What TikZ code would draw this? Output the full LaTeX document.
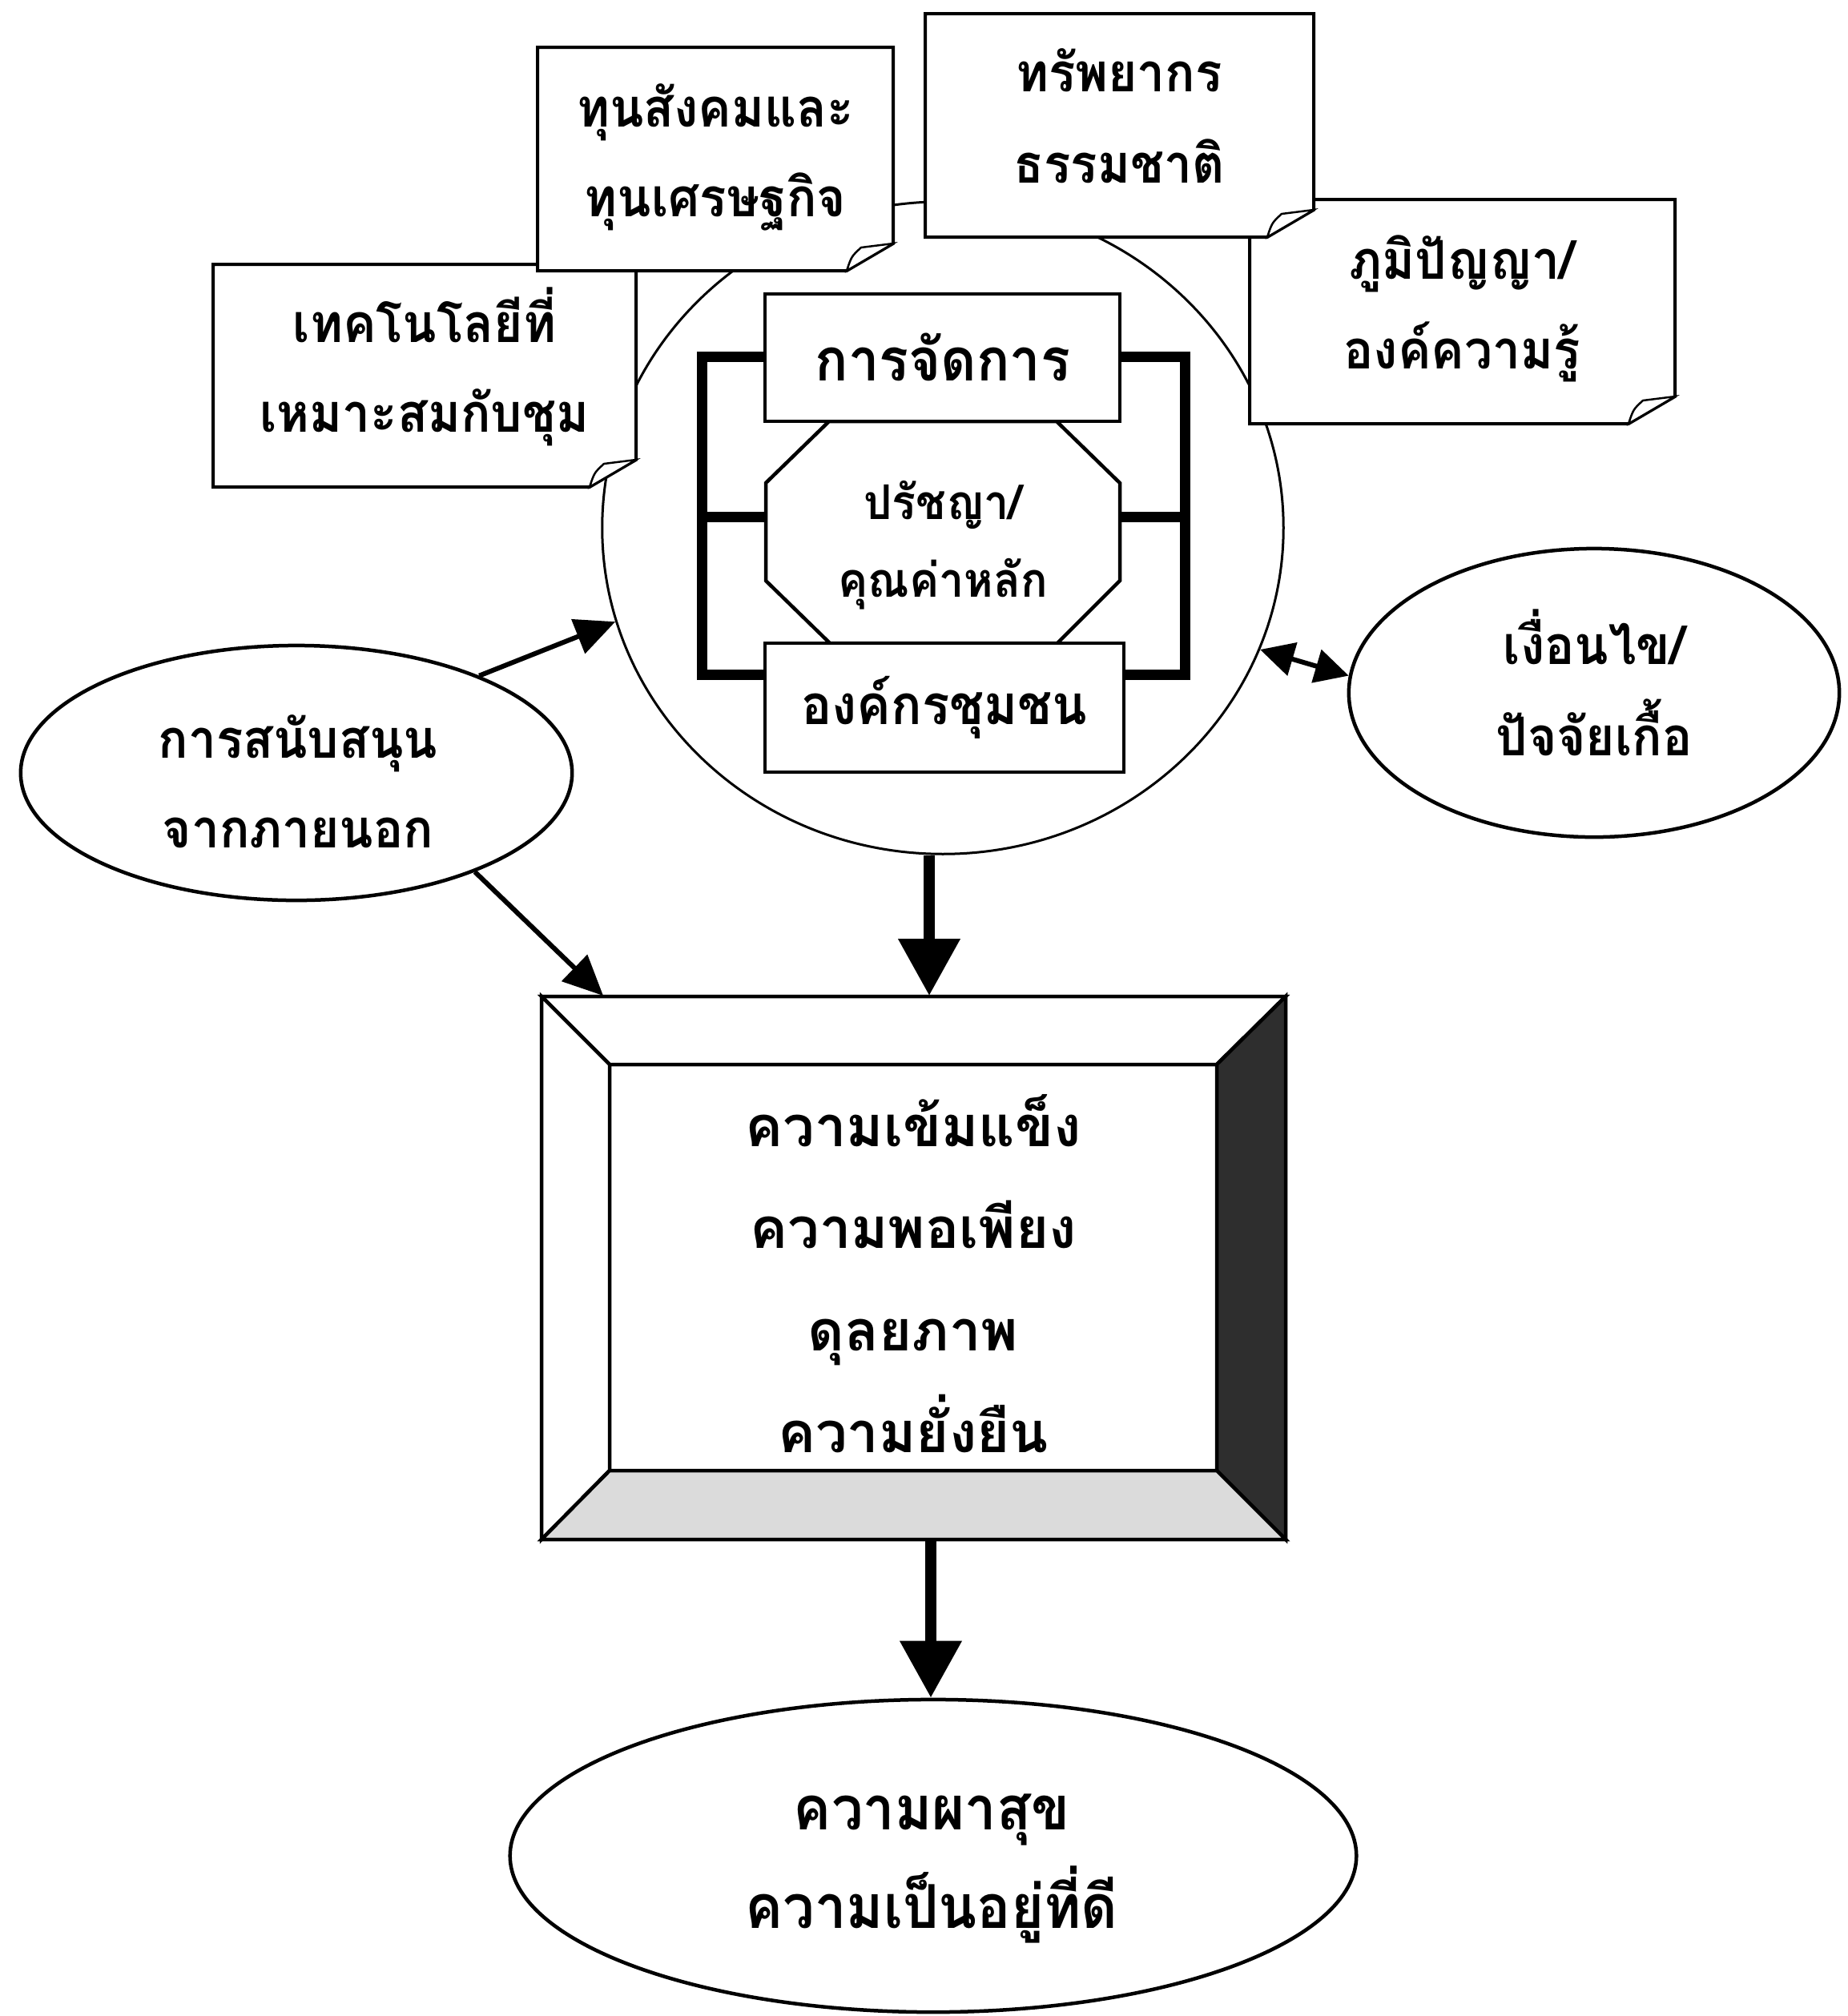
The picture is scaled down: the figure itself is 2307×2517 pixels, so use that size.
\documentclass[tikz,border=0pt]{standalone}
\usepackage{fontspec}
\newfontfamily\thaifont[Script=Thai,FakeStretch=0.93]{Loma}
\newfontfamily\thaiwide[Script=Thai]{Loma}
\usetikzlibrary{shapes.geometric,arrows.meta}
\newcommand\notecard[4]{%
  \filldraw[cardline,fill=white] (#1,#2) -- (#3,#2) -- (#3,#4-34) -- (#3-58,#4) -- (#1,#4) -- cycle;
  \filldraw[cardline,fill=white,line width=0.025cm] (#3-58,#4) .. controls (#3-52,#4-18) .. (#3-40,#4-29) -- (#3,#4-34) -- cycle;
}
\tikzset{
  cardline/.style={line width=0.04cm, line join=miter},
  boxline/.style={line width=0.045cm},
  boxnode/.style={draw, line width=0.045cm, fill=white, rectangle, inner sep=0pt},
  ringline/.style={draw, line width=0.03cm, ellipse, inner sep=0pt},
  ovalnode/.style={draw, line width=0.045cm, ellipse, fill=white, inner sep=0pt},
  bracketline/.style={line width=0.13cm, line join=miter},
  txt/.style={font=\thaifont\bfseries\fontsize{19}{19}\selectfont, inner sep=0pt, anchor=base},
  txtl/.style={txt, font=\thaifont\bfseries\fontsize{21}{21}\selectfont},
  txtorg/.style={txt, font=\thaifont\bfseries\fontsize{19.5}{19.5}\selectfont},
  txtm/.style={txt, font=\thaifont\bfseries\fontsize{21.5}{21.5}\selectfont},
  txts/.style={txt, font=\thaifont\bfseries\fontsize{17}{17}\selectfont},
  txtw/.style={txt, font=\thaiwide\bfseries\fontsize{20}{20}\selectfont},
  bigarrow/.style={line width=0.14cm, -{Triangle[length=0.71cm,width=0.74cm]}},
  thinarrow/.style={line width=0.06cm, -{Triangle[length=0.5cm,width=0.45cm]}},
  duoarrow/.style={line width=0.06cm, {Triangle[length=0.42cm,width=0.42cm]}-{Triangle[length=0.42cm,width=0.42cm]}},
}
\begin{document}
\begin{tikzpicture}[x=0.01cm,y=-0.01cm]
\useasboundingbox (0,0) rectangle (2307,2517);
\fill[white] (0,0) rectangle (2307,2517);

% central ring
\node[ringline, minimum width=8.5cm, minimum height=8.14cm] (hub) at (1177,659) {};

% paper notes
\notecard{266}{330}{794}{608}
\notecard{671}{59}{1115}{338}
\notecard{1560}{249}{2091}{529}
\notecard{1155}{17}{1640}{296}
\node[txt] (n4a) at (530,427) {เทคโนโลยีที่};
\node[txt] (n4b) at (530,539) {เหมาะสมกับชุม};
\node[txt] (n1a) at (893,158) {ทุนสังคมและ};
\node[txt] (n1b) at (893,270) {ทุนเศรษฐกิจ};
\node[txt] (n2a) at (1397,114) {ทรัพยากร};
\node[txt] (n2b) at (1397,228) {ธรรมชาติ};
\node[txt] (n3a) at (1825,348) {ภูมิปัญญา/};
\node[txt] (n3b) at (1825,460) {องค์ความรู้};

% bracket
\draw[bracketline] (955,445) -- (876,445) -- (876,842) -- (955,842);
\draw[bracketline] (876,645) -- (956,645);
\draw[bracketline] (1398,445) -- (1479,445) -- (1479,842) -- (1403,842);
\draw[bracketline] (1398,645) -- (1479,645);

% octagon
\filldraw[boxline, fill=white] (1035,526) -- (1319,526) -- (1398,603) -- (1398,725) -- (1320,803) -- (1036,803) -- (956,725) -- (956,603) -- cycle;
\node[txts] (phil1) at (1177,648) {ปรัชญา/};
\node[txts] (phil2) at (1177,745) {คุณค่าหลัก};

% boxes
\node[boxnode, minimum width=4.43cm, minimum height=1.59cm] (mgmt) at (1176.5,446.5) {};
\node[txtl] (mgmtt) at (1177,475) {การจัดการ};
\node[boxnode, minimum width=4.48cm, minimum height=1.61cm] (org) at (1179,883.5) {};
\node[txtorg] (orgt) at (1179,904) {องค์กรชุมชน};

% side ellipses
\node[ovalnode, minimum width=6.88cm, minimum height=3.18cm] (sup) at (370,965) {};
\node[txt] (supa) at (372,946) {การสนับสนุน};
\node[txt] (supb) at (372,1058) {จากภายนอก};
\node[ovalnode, minimum width=6.12cm, minimum height=3.6cm] (cond) at (1990,865) {};
\node[txt] (conda) at (1990,829) {เงื่อนไข/};
\node[txt] (condb) at (1990,943) {ปัจจัยเกื้อ};

% bevel box
\node[inner sep=0pt, minimum width=9.29cm, minimum height=6.78cm] (bevel) at (1140.5,1583) {};
\filldraw[boxline, fill=white, line join=miter] (676,1244) -- (1605,1244) -- (1519,1329) -- (761,1329) -- cycle;
\filldraw[boxline, fill=white, line join=miter] (676,1244) -- (761,1329) -- (761,1836) -- (676,1922) -- cycle;
\filldraw[boxline, fill=black!82, line join=miter] (1605,1244) -- (1605,1922) -- (1519,1836) -- (1519,1329) -- cycle;
\filldraw[boxline, fill=black!14, line join=miter] (676,1922) -- (1605,1922) -- (1519,1836) -- (761,1836) -- cycle;
\draw[boxline] (761,1329) rectangle (1519,1836);
\node[txtw] (b1) at (1140,1431) {ความเข้มแข็ง};
\node[txtw] (b2) at (1140,1558) {ความพอเพียง};
\node[txtw] (b3) at (1140,1686) {ดุลยภาพ};
\node[txtw] (b4) at (1140,1813) {ความยั่งยืน};

% bottom ellipse
\node[ovalnode, minimum width=10.56cm, minimum height=3.9cm] (well) at (1165,2317) {};
\node[txtm] (w1) at (1163,2284) {ความผาสุข};
\node[txtm] (w2) at (1163,2407) {ความเป็นอยู่ที่ดี};

% connectors
\coordinate (ax) at (1160,0);
\coordinate (bx) at (1162,0);
\draw[bigarrow] (ax |- hub.south) -- (ax |- bevel.north);
\draw[bigarrow] (bx |- bevel.south) -- (bx |- well.north);
\draw[thinarrow] (sup.28) -- (hub.196);
\draw[thinarrow] (sup.-29) -- ([xshift=0.78cm]bevel.north west);
\draw[duoarrow] (hub.-21) -- (cond.176);
\end{tikzpicture}
\end{document}
